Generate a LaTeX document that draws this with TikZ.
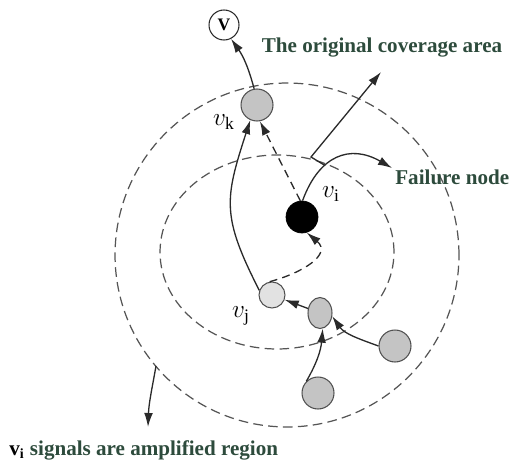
\documentclass[tikz,border=0pt]{standalone}
\usepackage{fontspec}
\setmainfont{Liberation Serif}
\usetikzlibrary{arrows.meta,shapes.geometric}

\definecolor{labelgreen}{HTML}{2D4B3C}
\definecolor{nodegray}{HTML}{C4C4C4}
\definecolor{palegray}{HTML}{E2E2E2}
\definecolor{rimgray}{HTML}{505050}
\definecolor{dashgray}{HTML}{555555}
\definecolor{inkgray}{HTML}{2A2A2A}

\tikzset{
  region/.style={draw=dashgray, line width=0.7pt, dash pattern=on 5.5pt off 3pt},
  sensor/.style={circle, draw=rimgray, fill=nodegray, line width=0.6pt, inner sep=0pt},
  failed/.style={circle, draw=black, fill=black, inner sep=0pt},
  sinknode/.style={circle, draw=inkgray, fill=white, line width=0.6pt, inner sep=0pt},
  link/.style={draw=inkgray, line width=0.75pt, -{Latex[length=8pt,width=5pt]}},
  hop/.style={dash pattern=on 4.5pt off 3pt},
  mlabel/.style={inner sep=0pt, font=\Large},
  caption/.style={inner sep=0pt, font=\large\bfseries, text=labelgreen}
}

\begin{document}
\begin{tikzpicture}[x=0.02cm, y=-0.02cm]
\useasboundingbox (0,0) rectangle (513,466);

% coverage regions
\draw[region] (287,255) circle[radius=3.44cm];
\draw[region] (277,252) ellipse[x radius=2.34cm, y radius=1.94cm];

% sensor nodes
\node[sinknode, minimum size=0.6cm] (V) at (224,25) {\bfseries V};
\node[sensor, minimum size=0.64cm] (vk) at (257,105) {};
\node[failed, minimum size=0.64cm] (vi) at (302,217) {};
\node[sensor, fill=palegray, minimum size=0.52cm] (vj) at (272,295) {};
\node[sensor, ellipse, minimum width=0.48cm, minimum height=0.62cm] (mid) at (320,313) {};
\node[sensor, minimum size=0.64cm] (nr) at (395,346) {};
\node[sensor, minimum size=0.64cm] (nb) at (318,393) {};

% node labels
\node[mlabel] (lk) at (224,122) {$v_{\mathrm{k}}$};
\node[mlabel] (li) at (331,194) {$v_{\mathrm{i}}$};
\node[mlabel] (lj) at (241,316) {$v_{\mathrm{j}}$};

% captions
\node[caption] (torig) at (382,48) {The original coverage area};
\node[caption, anchor=west] (tfail) at (395,177) {Failure node};
\node[caption, anchor=west] (tamp) at (9,450) {{\color{black}v\textsubscript{i}} signals are amplified region};

% pointer ends
\coordinate (tipA) at (381,72);
\coordinate (tipF) at (392,168);
\coordinate (bp) at (311,157);
\coordinate (amp) at (156,366);
\coordinate (tipR) at (148,427);

% routing
\draw[link] (vk.100) to[out=105,in=-55] (V.-63);
\draw[link] (vj.160) to[out=117,in=-108,looseness=1.25] (vk.-114);
\draw[link, hop] (vi.96) -- (vk.-80);
\draw[link, hop] (vj.100) to[out=15,in=-40,looseness=1.4] (vi.-73);
\draw[link] (mid) -- (vj);
\draw[link] (nr.180) to[out=160,in=-55] (mid.-15);
\draw[link] (nb.135) to[out=60,in=-95] (mid.-80);

% pointers to captions
\draw[link] (vi.88) to[out=70,in=150,looseness=1.3] coordinate[pos=0.35] (br) (tipF);
\draw[link] (br) -- (bp) -- (tipA);
\draw[link] (amp) to[out=-100,in=88] (tipR);
\end{tikzpicture}
\end{document}
